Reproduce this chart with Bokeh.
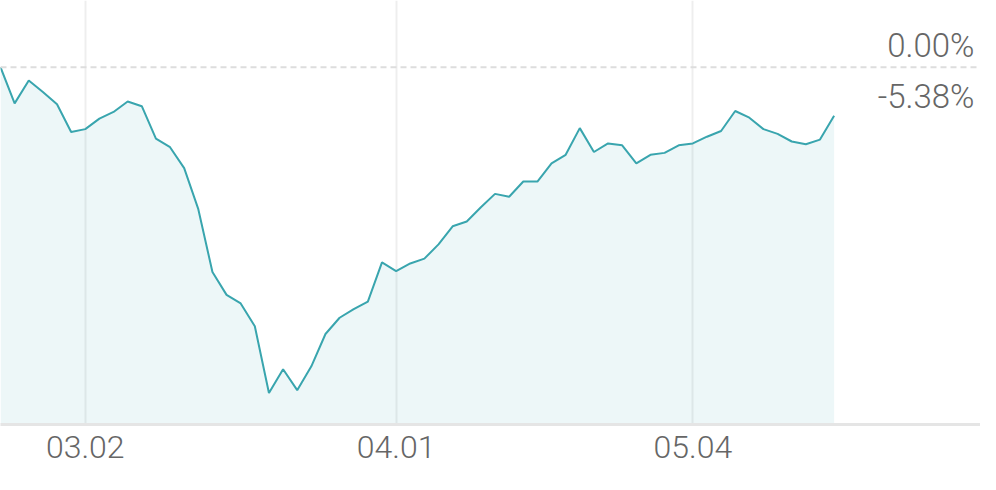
from bokeh.plotting import figure
from bokeh.models import Range1d, FixedTicker, Span, Label, ColumnDataSource
from bokeh.embed import file_html
from bokeh.resources import INLINE

# Cumulative return (%) per trading day
returns = [0.00, -4.01, -1.48, -2.74, -4.11, -7.17, -6.86, -5.70, -4.96, -3.80,
           -4.32, -7.91, -8.86, -11.18, -15.72, -22.68, -25.21, -26.16, -28.69, -36.08,
           -33.44, -35.76, -33.12, -29.54, -27.74, -26.79, -25.95, -21.62, -22.57, -21.73,
           -21.20, -19.62, -17.62, -17.09, -15.51, -14.03, -14.35, -12.66, -12.66, -10.65,
           -9.70, -6.75, -9.39, -8.44, -8.65, -10.65, -9.70, -9.49, -8.65, -8.44,
           -7.70, -7.07, -4.85, -5.59, -6.86, -7.38, -8.23, -8.54, -8.02, -5.38]
day_index = list(range(len(returns)))
tick_positions = [6, 28, 49]
tick_labels = ["03.02", "04.01", "05.04"]
baseline = [-45.0] * len(returns)

FONT = "Roboto Light"
TXT = "#666666"
LINE = "#39a5ae"

src = ColumnDataSource(dict(x=day_index, y=returns, base=baseline))

p = figure(width=980, height=474, output_backend="svg", toolbar_location=None,
           x_range=Range1d(0, 69.36), y_range=Range1d(-39.56, 7.38),
           min_border_left=0, min_border_right=0, min_border_top=0, min_border_bottom=50)
p.outline_line_color = None
p.background_fill_color = "white"
p.border_fill_color = "white"

p.yaxis.visible = False
p.ygrid.visible = False

p.xaxis.ticker = FixedTicker(ticks=tick_positions)
p.xaxis.major_label_overrides = {t: l for t, l in zip(tick_positions, tick_labels)}
p.xaxis.major_tick_line_color = None
p.xaxis.minor_tick_line_color = None
p.xaxis.axis_line_color = "#e5e5e5"
p.xaxis.axis_line_width = 3
p.xaxis.major_label_text_font = FONT
p.xaxis.major_label_text_font_size = "32px"
p.xaxis.major_label_text_color = TXT
p.xaxis.major_label_standoff = 5

p.xgrid.ticker = FixedTicker(ticks=tick_positions)
p.xgrid.grid_line_color = "#eeeeee"
p.xgrid.grid_line_width = 2

p.varea(x="x", y1="base", y2="y", source=src, fill_color=LINE, fill_alpha=0.09)
p.line(x="x", y="y", source=src, line_color=LINE, line_width=2)

p.add_layout(Span(location=0, dimension="width", line_color="#dddddd",
                  line_width=2, line_dash="6 4"))

p.add_layout(Label(x=974, x_units="screen", y=0, text="0.00%", text_align="right",
                   text_baseline="middle", y_offset=22, text_font=FONT,
                   text_font_size="33px", text_color=TXT))
p.add_layout(Label(x=974, x_units="screen", y=returns[-1], text=f"{returns[-1]:.2f}%",
                   text_align="right", text_baseline="middle", y_offset=19,
                   text_font=FONT, text_font_size="33px", text_color=TXT))

open("out.html", "w").write(file_html(p, INLINE))
